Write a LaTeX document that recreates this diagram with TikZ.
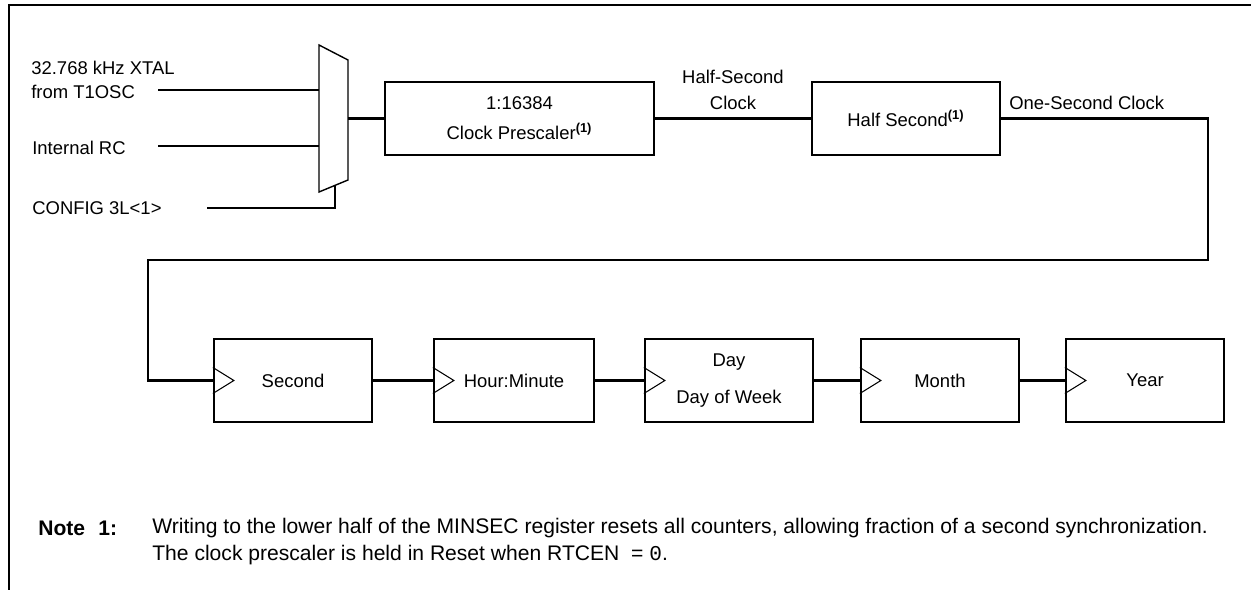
\documentclass[tikz,border=0pt]{standalone}
\usepackage{fontspec}
\setmainfont{Liberation Sans}
\setmonofont{Liberation Mono}
\usepackage{tikz}
\usetikzlibrary{positioning, calc}

\begin{document}
\begin{tikzpicture}[
  x=0.02cm, y=-0.02cm,
  every node/.style={font=\fontsize{10.5}{12.6}\selectfont, inner sep=0pt},
  blk/.style={draw, line width=1.3pt, align=center, minimum width=#1, minimum height=1.46cm},
  cnt/.style={draw, line width=1.3pt, align=center, minimum width=#1, minimum height=1.66cm},
  wire/.style={line width=1.3pt},
  clk/.style={line width=0.6pt},
  lbl/.style={anchor=west, align=left},
]
\useasboundingbox (0,0) rectangle (1251,590);
\draw[wire] (9,590) -- (9,5) -- (1251,5);

% ── clock source select ──
\coordinate (mtl) at (319,45);
\coordinate (mtr) at (348,60);
\coordinate (mbr) at (348,180);
\coordinate (mbl) at (319,192);
\draw[clk, line width=0.8pt] (mtl) -- (mtr) -- (mbr) -- (mbl) -- cycle;
\coordinate (mi1) at (319,90);
\coordinate (mi2) at (319,146);
\coordinate (msel) at (335,185.4);
\coordinate (mout) at (348,118.5);

\node[lbl] (xtal) at (31,80) {32.768 kHz XTAL\\[1pt]from T1OSC};
\node[lbl] (irc) at (32,148) {Internal RC};
\node[lbl] (cfg) at (32,208) {CONFIG 3L<1>};
\coordinate (in1) at (158,90);
\coordinate (in2) at (158,146);
\coordinate (in3) at (207,208);
\draw[wire] (in1) -- (mi1);
\draw[wire] (in2) -- (mi2);
\draw[wire] (in3) -| (msel);

% ── prescaler chain ──
\node[blk=5.38cm] (presc) at (519.5,118.5) {1:16384\\[4.4pt]Clock Prescaler\textsuperscript{\textbf{(1)}}};
\node[blk=3.76cm]  (halfs) at (906,118.5) {Half Second\textsuperscript{\textbf{(1)}}};
\draw[wire] (mout) -- (presc.west);
\draw[wire] (presc.east) -- (halfs.west);
\node[align=center] (hsc) at (733,90) {Half-Second\\[2pt]Clock};
\node[anchor=west] (osc) at (1009,103) {One-Second Clock};

% ── counters ──
\node[cnt=3.16cm] (sec) at (293,380.5) {Second};
\node[cnt=3.2cm]  (hm)  at (514,380.5) {Hour:Minute};
\node[cnt=3.36cm] (day) at (729,380.5) {Day\\[8pt]Day of Week};
\node[cnt=3.16cm] (mon) at (940,380.5) {Month};
\node[cnt=3.16cm] (yr)  at (1145,380.5) {Year};
\foreach \b in {sec,hm,day,mon,yr}
  \draw[clk] ($(\b.west)+(0,-13)$) -- ($(\b.west)+(21,0)$) -- ($(\b.west)+(0,13)$);

\coordinate (wr) at (1208,260);
\coordinate (wl) at (148,260);
\draw[wire] (halfs.east) -| (wr) -- (wl) |- (sec.west);
\draw[wire] (sec.east) -- (hm.west);
\draw[wire] (hm.east) -- (day.west);
\draw[wire] (day.east) -- (mon.west);
\draw[wire] (mon.east) -- (yr.west);

% ── note ──
\node[anchor=west, font=\fontsize{12}{14}\selectfont\bfseries] (nt) at (38,528) {Note};
\node[anchor=west, font=\fontsize{12}{14}\selectfont\bfseries] (n1) at (98,528) {1:};
\node[lbl, font=\fontsize{12}{15.3}\selectfont] (ntx) at (152,541.5) {Writing to the lower half of the MINSEC register resets all counters, allowing fraction of a second synchronization.\\The clock prescaler is held in Reset when RTCEN\ \ = \texttt{0}.};
\end{tikzpicture}
\end{document}
